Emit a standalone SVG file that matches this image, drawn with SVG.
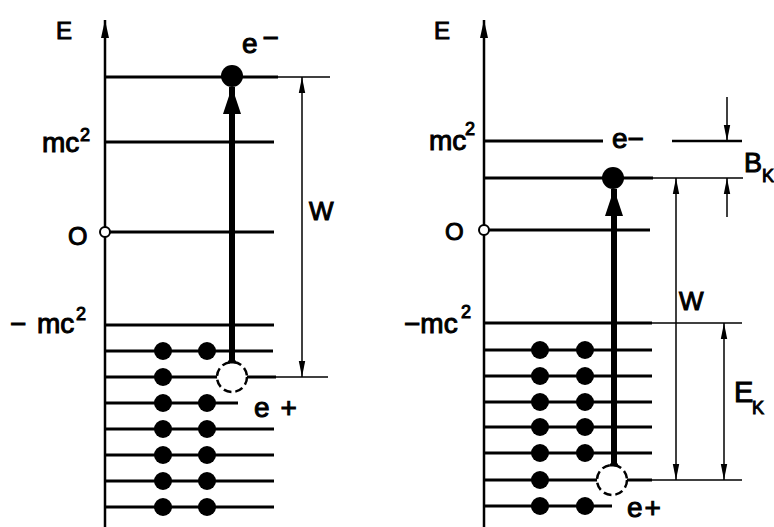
<svg xmlns="http://www.w3.org/2000/svg" width="774" height="527" viewBox="0 0 774 527">
<defs>
<style>
.lvl{stroke:#000;stroke-width:3;fill:none}
.thin{stroke:#000;stroke-width:1.5;fill:none}
.axis{stroke:#000;stroke-width:2.5;fill:none}
.dot{fill:#000}
.hole{fill:#fff;stroke:#000;stroke-width:2.5;stroke-dasharray:8 4}
.zero{fill:#fff;stroke:#000;stroke-width:2}
.shaft{stroke:#000;stroke-width:6;fill:none}
text{font-family:"Liberation Sans","Arial",sans-serif;fill:#000;stroke:#000;stroke-width:1}
.lc{font-size:28px}
.cap{font-size:24px}
.sup{font-size:18px}
</style>
<marker id="ah" viewBox="0 0 16 8" refX="16" refY="4" markerWidth="16" markerHeight="8" orient="auto-start-reverse" markerUnits="userSpaceOnUse"><path d="M0,0.8 L16,4 L0,7.2 Z" fill="#000"/></marker>
<marker id="axh" viewBox="0 0 18 10" refX="18" refY="5" markerWidth="18" markerHeight="10" orient="auto" markerUnits="userSpaceOnUse"><path d="M0,1 L18,5 L0,9 Z" fill="#000"/></marker>
<marker id="tah" viewBox="0 0 27 18" refX="27" refY="9" markerWidth="27" markerHeight="18" orient="auto" markerUnits="userSpaceOnUse"><path d="M0,0 L27,9 L0,18 Z" fill="#000"/></marker>
</defs>
<rect width="774" height="527" fill="#fff"/>

<g id="left-diagram">
<g id="left-axis">
<line class="axis" x1="105" y1="527" x2="105" y2="20" marker-end="url(#axh)"/>
<text class="cap" x="56" y="39">E</text>
</g>
<g id="left-levels">
<line class="lvl" x1="105" y1="77" x2="278" y2="77"/><line class="thin" x1="278" y1="77" x2="330" y2="77"/>
<line class="lvl" x1="105" y1="142" x2="274" y2="142"/>
<line class="lvl" x1="105" y1="232" x2="274" y2="232"/>
<line class="lvl" x1="105" y1="325" x2="274" y2="325"/>
<line class="lvl" x1="105" y1="351" x2="273" y2="351"/>
<line class="lvl" x1="105" y1="377" x2="218" y2="377"/><line class="lvl" x1="246" y1="377" x2="276" y2="377"/><line class="thin" x1="276" y1="377" x2="328" y2="377"/>
<line class="lvl" x1="105" y1="403" x2="238" y2="403"/>
<line class="lvl" x1="105" y1="429" x2="274" y2="429"/>
<line class="lvl" x1="105" y1="455" x2="274" y2="455"/>
<line class="lvl" x1="105" y1="481" x2="274" y2="481"/>
<line class="lvl" x1="105" y1="507" x2="274" y2="507"/>
</g>
<g id="left-labels">
<text class="lc" x="42" y="152">mc</text><text class="sup" x="80" y="141">2</text>
<text x="68" y="245" style="font-size:25px">O</text>
<text class="lc" x="10" y="333">−</text><text class="lc" x="37" y="333">mc</text><text class="sup" x="76" y="320">2</text>
<text class="lc" x="242" y="53">e<tspan dx="5" dy="-6">−</tspan></text>
<text class="lc" x="254" y="417">e<tspan dx="11">+</tspan></text>
<text x="309" y="220" style="font-size:26px">W</text>
</g>
<g id="left-electrons">
<circle class="dot" cx="163" cy="351" r="9"/><circle class="dot" cx="207" cy="351" r="9"/>
<circle class="dot" cx="163" cy="377" r="9"/>
<circle class="dot" cx="163" cy="403" r="9"/><circle class="dot" cx="207" cy="403" r="9"/>
<circle class="dot" cx="163" cy="429" r="9"/><circle class="dot" cx="207" cy="429" r="9"/>
<circle class="dot" cx="163" cy="455" r="9"/><circle class="dot" cx="207" cy="455" r="9"/>
<circle class="dot" cx="163" cy="481" r="9"/><circle class="dot" cx="207" cy="481" r="9"/>
<circle class="dot" cx="163" cy="507" r="9"/><circle class="dot" cx="207" cy="507" r="9"/>
<circle class="dot" cx="232" cy="76" r="11"/>
<circle class="hole" cx="232" cy="377" r="15"/>
<circle class="zero" cx="105" cy="232" r="5"/>
</g>
</g>

<g id="right-diagram">
<g id="right-axis">
<line class="axis" x1="484" y1="527" x2="484" y2="20" marker-end="url(#axh)"/>
<text class="cap" x="434" y="39">E</text>
</g>
<g id="right-levels">
<line class="lvl" x1="484" y1="141" x2="603" y2="141"/><line class="lvl" style="stroke-width:2.5" x1="672" y1="141" x2="742" y2="141"/>
<line class="lvl" x1="484" y1="178" x2="653" y2="178"/><line class="thin" x1="653" y1="178" x2="743" y2="178"/>
<line class="lvl" x1="484" y1="230" x2="650" y2="230"/>
<line class="lvl" x1="484" y1="323" x2="652" y2="323"/><line class="thin" x1="652" y1="323" x2="742" y2="323"/>
<line class="lvl" x1="484" y1="350" x2="652" y2="350"/>
<line class="lvl" x1="484" y1="376" x2="652" y2="376"/>
<line class="lvl" x1="484" y1="402" x2="652" y2="402"/>
<line class="lvl" x1="484" y1="427" x2="652" y2="427"/>
<line class="lvl" x1="484" y1="453" x2="652" y2="453"/>
<line class="lvl" x1="484" y1="480" x2="598" y2="480"/><line class="lvl" x1="626" y1="480" x2="652" y2="480"/><line class="thin" x1="652" y1="480" x2="742" y2="480"/>
<line class="lvl" x1="484" y1="506" x2="612" y2="506"/>
</g>
<g id="right-labels">
<text class="lc" x="429" y="150">mc</text><text class="sup" x="465" y="135">2</text>
<text x="445" y="240" style="font-size:24px">O</text>
<text class="lc" x="404" y="333">−mc</text><text class="sup" x="461" y="318">2</text>
<text class="lc" x="612" y="148">e−</text>
<text class="lc" x="627" y="517">e<tspan dx="2">+</tspan></text>
<text x="679" y="310" style="font-size:26px">W</text>
<text x="744" y="172" style="font-size:27px">B</text><text class="sup" x="762" y="182">K</text>
<text x="734" y="402" style="font-size:29px">E</text><text class="sup" x="752" y="414">K</text>
</g>
<g id="right-electrons">
<circle class="dot" cx="540" cy="350" r="9"/><circle class="dot" cx="585" cy="350" r="9"/>
<circle class="dot" cx="540" cy="376" r="9"/><circle class="dot" cx="585" cy="376" r="9"/>
<circle class="dot" cx="540" cy="402" r="9"/><circle class="dot" cx="585" cy="402" r="9"/>
<circle class="dot" cx="540" cy="427" r="9"/><circle class="dot" cx="585" cy="427" r="9"/>
<circle class="dot" cx="540" cy="453" r="9"/><circle class="dot" cx="585" cy="453" r="9"/>
<circle class="dot" cx="540" cy="480" r="9"/>
<circle class="dot" cx="540" cy="506" r="9"/><circle class="dot" cx="585" cy="506" r="9"/>
<circle class="dot" cx="613" cy="178" r="11"/>
<circle class="hole" cx="612" cy="480" r="15"/>
<circle class="zero" cx="484" cy="230" r="5"/>
</g>
</g>

<g id="connectors">
<line class="shaft" x1="232" y1="362" x2="232" y2="87" marker-end="url(#tah)"/>
<line class="lvl" x1="228" y1="362" x2="236" y2="362"/>
<line class="shaft" x1="614" y1="465" x2="614" y2="189" marker-end="url(#tah)"/>
<line class="lvl" x1="610" y1="465" x2="618" y2="465"/>
<line class="thin" x1="302" y1="77" x2="302" y2="377" marker-start="url(#ah)" marker-end="url(#ah)"/>
<line class="thin" x1="676" y1="178" x2="676" y2="480" marker-start="url(#ah)" marker-end="url(#ah)"/>
<line class="thin" x1="724" y1="323" x2="724" y2="480" marker-start="url(#ah)" marker-end="url(#ah)"/>
<line class="thin" x1="727" y1="97" x2="727" y2="141" marker-end="url(#ah)"/>
<line class="thin" x1="727" y1="217" x2="727" y2="178" marker-end="url(#ah)"/>
</g>
</svg>
